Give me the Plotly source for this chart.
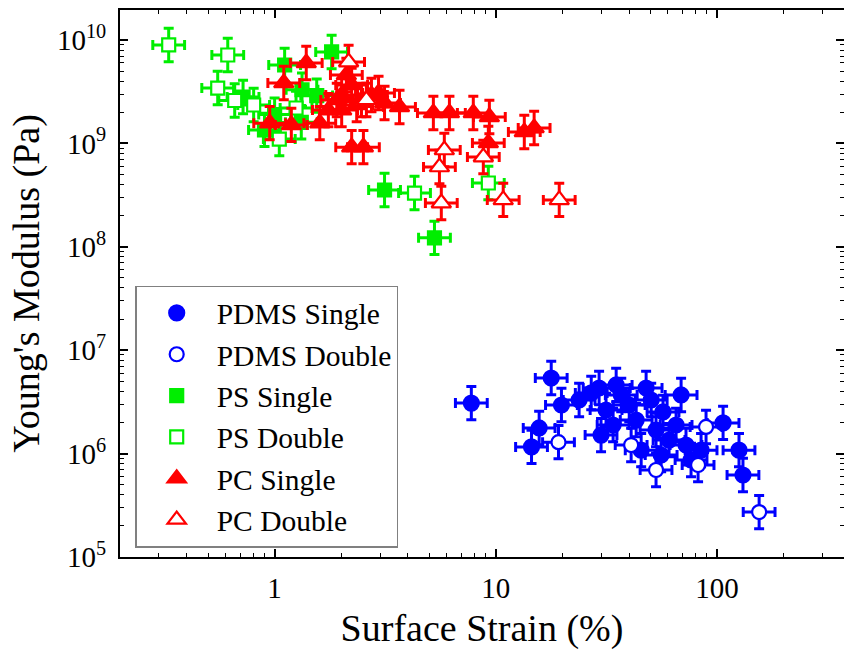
import plotly.graph_objects as go
import math

# ---------------- data ----------------
pdms_single_x = [7.75, 17.8, 19.8, 15.7, 14.5, 23.8, 27.0, 29.3, 31.5, 33.9, 36.9, 40.1, 43.1, 47.8,
                 50.4, 53.0, 57.0, 60.7, 65.3, 68.8, 72.4, 76.3, 84.7, 106.5, 125.7, 131.0, 45.4,
                 29.9, 55.9, 35.0]
pdms_single_y = [3.08e6, 5.38e6, 2.95e6, 1.77e6, 1.16e6, 3.30e6, 3.86e6, 4.31e6, 2.64e6, 1.89e6,
                 3.69e6, 2.95e6, 2.11e6, 4.31e6, 3.30e6, 1.69e6, 2.53e6, 1.35e6, 1.89e6, 3.69e6,
                 1.21e6, 8.67e5, 1.08e6, 1.98e6, 1.08e6, 6.21e5, 1.08e6, 1.51e6, 9.69e5, 4.61e6]

pdms_double_x = [19.2, 53.0, 82.1, 89.2, 155.0, 40.9]
pdms_double_y = [1.29e6, 6.94e5, 7.76e5, 1.81e6, 2.72e5, 1.21e6]

ps_single_x = [1.11, 1.81, 3.14, 5.28, 0.90, 0.72, 1.33, 1.55, 1.0, 1.32]
ps_single_y = [5.73e9, 7.66e9, 3.54e8, 1.22e8, 1.35e9, 2.81e9, 3.3e9, 2.9e9, 1.9e9, 1.6e9]

ps_double_x = [0.332, 0.614, 0.553, 0.804, 0.66, 4.29, 9.25, 1.25, 1.05]
ps_double_y = [8.95e9, 7.16e9, 3.43e9, 2.35e9, 2.6e9, 3.31e8, 4.14e8, 2.2e9, 1.1e9]

pc_single_x = [1.39, 1.10, 0.95, 1.19, 1.60, 1.75, 2.01, 2.23, 2.35, 2.11, 2.47, 2.23, 2.52, 2.95,
               3.14, 3.67, 5.22, 6.17, 7.91, 9.35, 9.25, 13.45, 14.9, 2.74, 1.91, 2.01]
pc_single_y = [5.99e9, 3.84e9, 1.57e9, 1.51e9, 1.57e9, 2.10e9, 2.94e9, 3.67e9, 2.35e9, 4.59e9,
               2.63e9, 9.2e8, 9.2e8, 3.07e9, 2.46e9, 2.25e9, 1.97e9, 1.97e9, 1.97e9, 1.80e9,
               1.01e9, 1.29e9, 1.41e9, 2.94e9, 2.63e9, 2.10e9]

pc_double_x = [2.16, 2.60, 5.85, 5.56, 8.78, 5.67, 10.8, 19.35]
pc_double_y = [6.12e9, 2.63e9, 8.63e8, 5.91e8, 7.38e8, 2.65e8, 2.84e8, 2.84e8]

y_tick_vals = [1e5, 1e6, 1e7, 1e8, 1e9, 1e10]
y_tick_text = ["10<sup>5</sup>", "10<sup>6</sup>", "10<sup>7</sup>", "10<sup>8</sup>",
               "10<sup>9</sup>", "10<sup>10</sup>"]
x_tick_vals = [1, 10, 100]
x_tick_text = ["1", "10", "100"]

# relative error factors (multiplicative, symmetric on log axes)
X_ERR_FACTOR = 1.18
Y_ERR_FACTOR = 1.45

BLUE = "#0000FF"
GREEN = "#00EE00"
RED = "#FF0000"
FONT = "Liberation Serif, Times New Roman, serif"


def errs(vals, f):
    return [v * (f - 1) for v in vals], [v * (1 - 1 / f) for v in vals]


def add_series(fig, name, xs, ys, color, symbol, size, filled, group):
    ex_p, ex_m = errs(xs, X_ERR_FACTOR)
    ey_p, ey_m = errs(ys, Y_ERR_FACTOR)
    fig.add_trace(go.Scatter(
        x=xs, y=ys, mode="markers", name=name, legendgroup=group,
        marker=dict(symbol=symbol, size=size,
                    color=color if filled else "white",
                    line=dict(color=color, width=2.2)),
        error_x=dict(type="data", symmetric=False, array=ex_p, arrayminus=ex_m,
                     color=color, thickness=3, width=5),
        error_y=dict(type="data", symmetric=False, array=ey_p, arrayminus=ey_m,
                     color=color, thickness=3, width=5),
    ))


fig = go.Figure()
add_series(fig, "PDMS Single", pdms_single_x, pdms_single_y, BLUE, "circle", 15, True, "g1")
add_series(fig, "PDMS Double", pdms_double_x, pdms_double_y, BLUE, "circle", 14, False, "g2")
add_series(fig, "PS Single", ps_single_x, ps_single_y, GREEN, "square", 13, True, "g3")
add_series(fig, "PS Double", ps_double_x, ps_double_y, GREEN, "square", 13, False, "g4")
add_series(fig, "PC Single", pc_single_x, pc_single_y, RED, "triangle-up", 17, True, "g5")
add_series(fig, "PC Double", pc_double_x, pc_double_y, RED, "triangle-up", 17, False, "g6")

axis_common = dict(
    showline=True, linecolor="black", linewidth=2, mirror="ticks",
    ticks="inside", ticklen=8, tickwidth=1.5, tickcolor="black",
    showgrid=False, zeroline=False, automargin=False,
    tickfont=dict(family=FONT, size=29, color="black"),
    minor=dict(ticks="inside", ticklen=4, tickwidth=1.2, tickcolor="black",
               dtick="D1", showgrid=False),
)

fig.update_xaxes(type="log", range=[math.log10(0.2), 2.574],
                 tickvals=x_tick_vals, ticktext=x_tick_text,
                 ticklabelstandoff=4,
                 title=dict(text="Surface Strain (%)", font=dict(family=FONT, size=38, color="black"),
                            standoff=12),
                 **axis_common)
fig.update_yaxes(type="log", range=[5, 10.29],
                 tickvals=y_tick_vals, ticktext=y_tick_text,
                 ticklabelstandoff=6,
                 title=dict(text="Young's Modulus (Pa)", font=dict(family=FONT, size=38, color="black"),
                            standoff=6),
                 **axis_common)

fig.update_layout(
    width=844, height=652,
    margin=dict(l=120, r=0, t=10, b=95),
    paper_bgcolor="white", plot_bgcolor="white",
    showlegend=True,
    legend=dict(x=0.021, y=0.017, xanchor="left", yanchor="bottom",
                bgcolor="white", bordercolor="#808080", borderwidth=1.5,
                font=dict(family=FONT, size=29.5, color="black"),
                tracegroupgap=0, itemwidth=70),
)

fig.write_html("out.html", config={"displayModeBar": False},
               post_script="document.body.style.margin='0';")
